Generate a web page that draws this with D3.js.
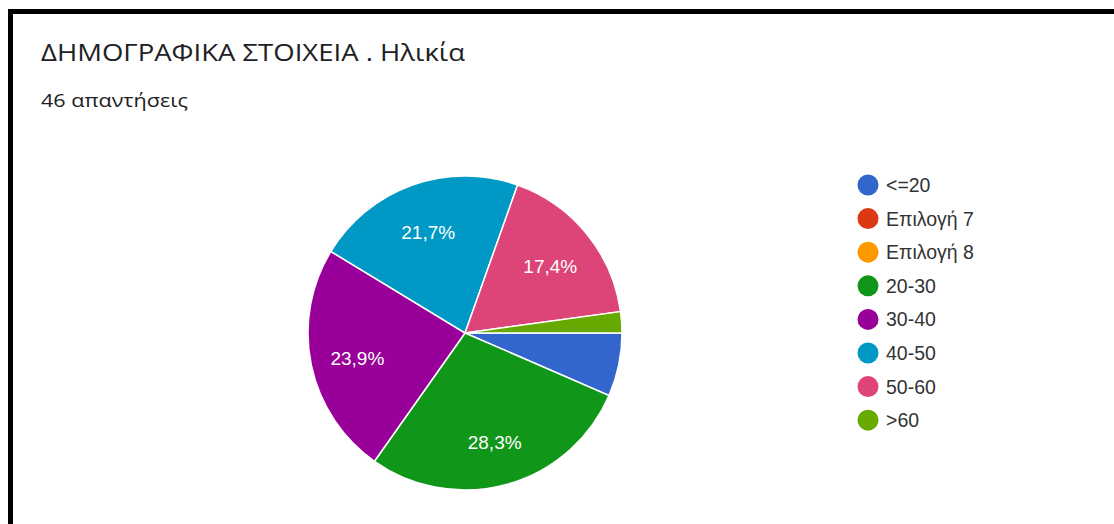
<!DOCTYPE html>
<html>
<head>
<meta charset="utf-8">
<script src="https://cdn.jsdelivr.net/npm/d3@7"></script>
<style>
  html, body { margin: 0; padding: 0; background: #fff; }
  svg { display: block; }
</style>
</head>
<body>
<svg id="chart" width="1114" height="524"></svg>
<script>
// Age groups of the respondents (46 answers)
const categories = ["<=20", "Επιλογή 7", "Επιλογή 8", "20-30", "30-40", "40-50", "50-60", ">60"];
const counts = [3, 0, 0, 13, 11, 10, 8, 1];
const colors = ["#3366cc", "#dc3912", "#ff9900", "#109618", "#990099", "#0099c6", "#dd4477", "#66aa00"];
const titleText = "ΔΗΜΟΓΡΑΦΙΚΑ ΣΤΟΙΧΕΙΑ . Ηλικία";
const subtitleText = "46 απαντήσεις";

const svg = d3.select("#chart");
const W = 1114, H = 524;

svg.append("rect").attr("width", W).attr("height", H).attr("fill", "#fff");

// Card frame (top and left edges visible)
svg.append("rect").attr("x", 8).attr("y", 9).attr("width", W - 8).attr("height", 5).attr("fill", "#000");
svg.append("rect").attr("x", 8).attr("y", 9).attr("width", 5).attr("height", H - 9).attr("fill", "#000");

svg.append("text")
  .attr("x", 41).attr("y", 61)
  .attr("font-family", "'Open Sans', Roboto, sans-serif")
  .attr("font-size", 24)
  .attr("fill", "#202124")
  .attr("textLength", 424)
  .attr("lengthAdjust", "spacingAndGlyphs")
  .text(titleText);

svg.append("text")
  .attr("x", 41).attr("y", 107)
  .attr("font-family", "'Open Sans', Roboto, sans-serif")
  .attr("font-size", 18.5)
  .attr("fill", "#202124")
  .attr("textLength", 147)
  .attr("lengthAdjust", "spacingAndGlyphs")
  .text(subtitleText);

const total = d3.sum(counts);
const data = categories.map((c, i) => ({ cat: c, value: counts[i], color: colors[i] }));

const cx = 465, cy = 333, r = 157;
const pie = d3.pie()
  .value(d => d.value)
  .sort(null)
  .startAngle(Math.PI / 2)
  .endAngle(Math.PI / 2 + 2 * Math.PI);

const arcs = pie(data).filter(d => d.data.value > 0);
const arc = d3.arc().innerRadius(0).outerRadius(r);
const labelArc = d3.arc().innerRadius(r * 0.7).outerRadius(r * 0.7);

const g = svg.append("g").attr("transform", `translate(${cx},${cy})`);
g.selectAll("path.slice")
  .data(arcs)
  .join("path")
  .attr("class", "slice")
  .attr("d", arc)
  .attr("fill", d => d.data.color)
  .attr("stroke", "#fff")
  .attr("stroke-width", 1.5);

const fmt = v => (v * 100).toFixed(1).replace(".", ",") + "%";
g.selectAll("text.pct")
  .data(arcs.filter(d => d.data.value / total >= 0.1))
  .join("text")
  .attr("class", "pct")
  .attr("transform", d => { const [x, y] = labelArc.centroid(d); return `translate(${x},${y + 3})`; })
  .attr("text-anchor", "middle")
  .attr("dy", "0.36em")
  .attr("font-family", "Arial, 'Liberation Sans', sans-serif")
  .attr("font-size", 19)
  .attr("fill", "#fff")
  .text(d => fmt(d.data.value / total));

// Legend
const legend = svg.append("g").attr("transform", "translate(868,185)");
const rows = legend.selectAll("g.row")
  .data(data)
  .join("g")
  .attr("class", "row")
  .attr("transform", (d, i) => `translate(0,${i * 33.6})`);
rows.append("circle").attr("r", 10.5).attr("fill", d => d.color);
rows.append("text")
  .attr("x", 18).attr("dy", "0.36em")
  .attr("font-family", "Arial, 'Liberation Sans', sans-serif")
  .attr("font-size", 19.5)
  .attr("fill", "#333")
  .text(d => d.cat);
</script>
</body>
</html>
